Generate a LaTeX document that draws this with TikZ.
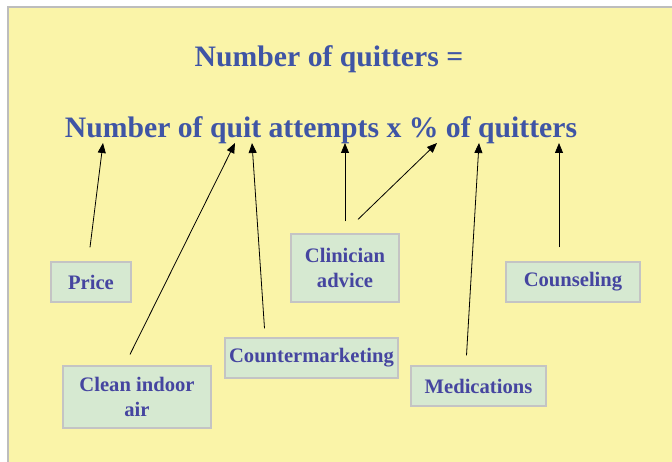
\documentclass[tikz,border=0pt]{standalone}
\usepackage{fontspec}
\setmainfont{Liberation Serif}
\usetikzlibrary{arrows.meta}

\definecolor{slidebg}{HTML}{FAF4A8}
\definecolor{slideframe}{HTML}{BDBDBD}
\definecolor{formulablue}{HTML}{3F55A5}
\definecolor{boxtext}{HTML}{4545A0}
\definecolor{boxfill}{HTML}{D6E9D1}
\definecolor{boxline}{HTML}{C4C4C4}

\newcommand{\slideLeft}{8}
\newcommand{\slideTop}{7}

\begin{document}
\begin{tikzpicture}[x=1pt,y=-1pt,
    factorbox/.style={draw=boxline,line width=1.2pt,fill=boxfill,text=boxtext,
      font=\fontsize{20.6}{25}\selectfont\bfseries,align=center,inner sep=0pt},
    formula/.style={text=formulablue,font=\fontsize{29.7}{34}\selectfont\bfseries,
      inner sep=0pt,anchor=base},
    toformula/.style={-{Triangle[length=10pt,width=8pt]},line width=0.8pt}]
    \useasboundingbox (0,0) rectangle (672,462);
    \fill[slidebg] (\slideLeft,\slideTop) rectangle (672,462);
    \draw[slideframe,line width=1.5pt] (\slideLeft,462) -- (\slideLeft,\slideTop) -- (672,\slideTop);

    \node[formula] (title) at (329,67) {Number of quitters =};
    \node[formula] (product) at (321,138) {Number of quit attempts x \% of quitters};

    \node[factorbox,minimum width=80pt,minimum height=40pt] (price) at (91,282) {Price};
    \node[factorbox,minimum width=148pt,minimum height=62pt] (clean) at (137,397) {Clean indoor\\air};
    \node[factorbox,minimum width=173pt,minimum height=40pt] (counter) at (311.5,358) {Countermarketing};
    \node[factorbox,minimum width=108pt,minimum height=68pt] (clinician) at (345,268) {Clinician\\advice};
    \node[factorbox,minimum width=135pt,minimum height=40pt] (meds) at (478.5,386) {Medications};
    \node[factorbox,minimum width=134pt,minimum height=40pt] (counsel) at (573,282) {Counseling};

    % arrow heads on the formula line
    \coordinate (tipPrice) at (103,143);
    \coordinate (tipClean) at (235,143);
    \coordinate (tipCounter) at (252,143);
    \coordinate (tipAdvice) at (345,143);
    \coordinate (tipAdviceB) at (437,143);
    \coordinate (tipMeds) at (479,143);
    \coordinate (tipCounsel) at (559,143);

    % line ends just above the boxes
    \coordinate (fromPrice) at ([xshift=-1pt,yshift=14pt]price.north);
    \coordinate (fromClean) at ([xshift=-7pt,yshift=11pt]clean.north);
    \coordinate (fromCounter) at ([xshift=-47pt,yshift=9pt]counter.north);
    \coordinate (fromAdvice) at ([yshift=12pt]clinician.north);
    \coordinate (fromAdviceB) at ([xshift=13pt,yshift=14pt]clinician.north);
    \coordinate (fromMeds) at ([xshift=-12pt,yshift=10pt]meds.north);
    \coordinate (fromCounsel) at ([xshift=-14pt,yshift=14pt]counsel.north);

    \draw[toformula] (fromPrice) -- (tipPrice);
    \draw[toformula] (fromClean) -- (tipClean);
    \draw[toformula] (fromCounter) -- (tipCounter);
    \draw[toformula] (fromAdvice) -- (tipAdvice);
    \draw[toformula] (fromAdviceB) -- (tipAdviceB);
    \draw[toformula] (fromMeds) -- (tipMeds);
    \draw[toformula] (fromCounsel) -- (tipCounsel);
  \end{tikzpicture}
\end{document}
